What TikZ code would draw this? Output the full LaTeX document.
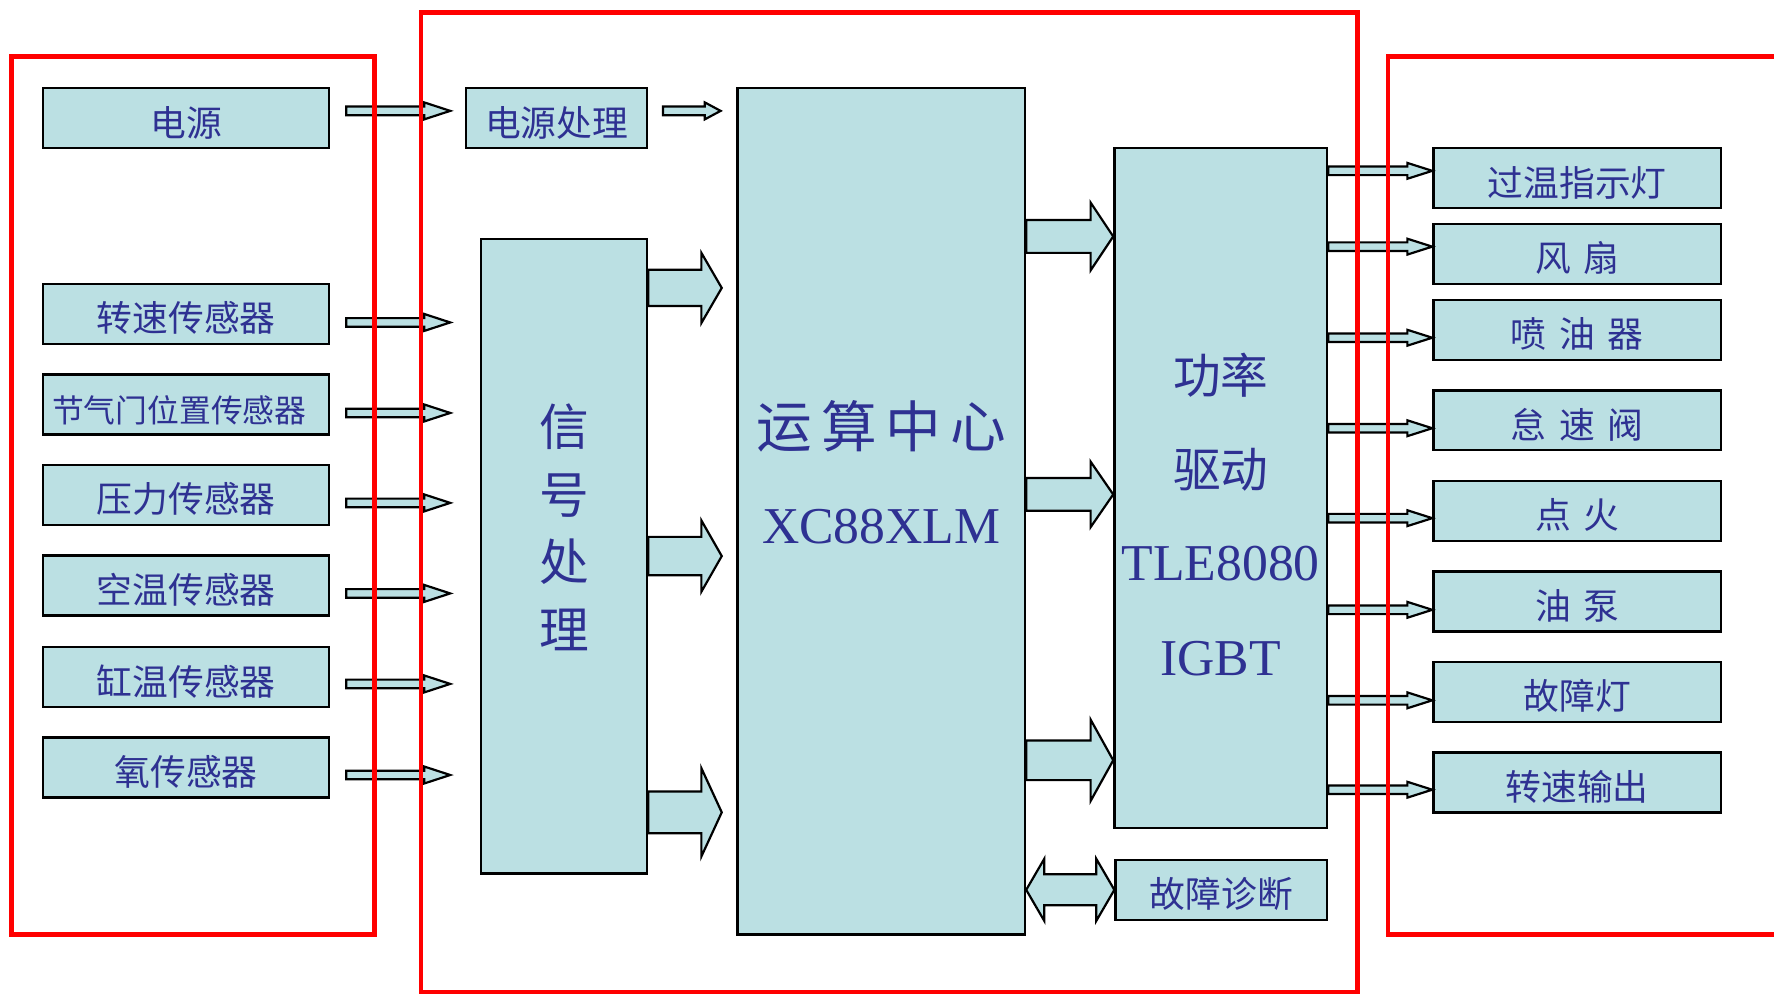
\documentclass[tikz,border=0pt]{standalone}
\usepackage{fontspec}
\setmainfont{Liberation Serif}
\newfontfamily\cjk{Noto Sans CJK SC}
\usetikzlibrary{calc}

\definecolor{boxfill}{RGB}{187,224,227}   % 方框底色
\definecolor{textblue}{RGB}{46,49,146}    % 文字颜色

\newcommand{\zikong}{\hspace{0.35em}}     % 字间空

% 空心箭头：起点，终点，杆半宽，头半宽，头长
\newcommand{\fatarrow}[5]{%
  \draw[hollow] ($(#1)+(0,#3)$) -- ($(#2)+(-#5,#3)$) -- ($(#2)+(-#5,#4)$)
    -- (#2) -- ($(#2)+(-#5,-#4)$) -- ($(#2)+(-#5,-#3)$) -- ($(#1)+(0,-#3)$) -- cycle;}

% 双向空心箭头
\newcommand{\dblarrow}[5]{%
  \draw[hollow] (#1) -- ($(#1)+(#5,#4)$) -- ($(#1)+(#5,#3)$) -- ($(#2)+(-#5,#3)$)
    -- ($(#2)+(-#5,#4)$) -- (#2) -- ($(#2)+(-#5,-#4)$) -- ($(#2)+(-#5,-#3)$)
    -- ($(#1)+(#5,-#3)$) -- ($(#1)+(#5,-#4)$) -- cycle;}

\begin{document}
\begin{tikzpicture}[
        x=0.1mm, y=-0.1mm,
        box/.style={draw=black, line width=0.6pt, fill=boxfill, inner sep=0pt,
            text=textblue, font=\cjk\fontsize{9}{11}\selectfont,
            text height=0.9em, text depth=0pt},
        lbox/.style={box, minimum width=25.3mm, minimum height=5.3mm},
        rbox/.style={box, minimum width=25.4mm, minimum height=5.3mm},
        bigtext/.style={inner sep=0pt, text=textblue, align=center},
        hollow/.style={draw=black, line width=0.55pt, fill=boxfill, line join=miter},
        panel/.style={draw=red, line width=1.1pt}
    ]

    \useasboundingbox (0,0) rectangle (1568,879);

    % ---------- 左侧：电源与传感器 ----------
    \node[lbox] (dy) at (164.5,104.5) {电源};
    \node[lbox] (zs) at (164.5,277.5) {转速传感器};
    \node[lbox, font=\cjk\fontsize{8}{10}\selectfont] (jq) at (164.5,357.5) {节气门位置传感器\kern1.2mm};
    \node[lbox] (yl) at (164.5,437.5) {压力传感器};
    \node[lbox] (kw) at (164.5,517.5) {空温传感器};
    \node[lbox] (gw) at (164.5,598.5) {缸温传感器};
    \node[lbox] (yq) at (164.5,678.5) {氧传感器};

    % ---------- 中间：控制单元 ----------
    \node[box, minimum width=16mm, minimum height=5.3mm] (yc) at (492,104.5) {电源处理};
    \node[box, minimum width=14.7mm, minimum height=56.1mm] (xh) at (498.5,491.5) {};
    \node[box, minimum width=25.4mm, minimum height=74.8mm] (ys) at (779,452) {};
    \node[box, minimum width=18.8mm, minimum height=60.1mm] (gl) at (1079,431.5) {};
    \node[box, minimum width=18.7mm, minimum height=5.3mm] (gz) at (1079.5,786.5) {故障诊断};

    % 方框内文字
    \node[bigtext, font=\cjk\fontsize{12.5}{17}\selectfont] (xht) at (498.5,466) {信\\号\\处\\理};
    \node[bigtext, font=\cjk\fontsize{14}{16}\selectfont] (yst) at (779,377) {运\,算\,中\,心};
    \node[bigtext, font=\fontsize{13}{15}\selectfont] (ysx) at (779,465) {XC88XLM};
    \node[bigtext, font=\cjk\fontsize{12}{23.6}\selectfont] (glt) at (1079,373) {功率\\驱动};
    \node[bigtext, font=\fontsize{13}{23.9}\selectfont] (glx) at (1079,540) {TLE8080\\IGBT};

    % ---------- 右侧：执行器 ----------
    \node[rbox] (gwd) at (1394,157.5) {过温指示灯};
    \node[rbox] (fs) at (1394,224.5) {风\zikong 扇};
    \node[rbox] (pyq) at (1394,291.5) {喷\zikong 油\zikong 器};
    \node[rbox] (dsf) at (1394,371.5) {怠\zikong 速\zikong 阀};
    \node[rbox] (dh) at (1394,451.5) {点\zikong 火};
    \node[rbox] (yb) at (1394,531.5) {油\zikong 泵};
    \node[rbox] (gzd) at (1394,611.5) {故障灯};
    \node[rbox] (zssc) at (1394,691.5) {转速输出};

    % ---------- 输入箭头 ----------
    \coordinate (a0s) at ($(dy.east)+(14,-6.5)$);
    \coordinate (a0e) at ($(yc.west)+(-13,-6.5)$);
    \fatarrow{a0s}{a0e}{3.8}{7.5}{23}

    \coordinate (a1s) at ($(zs.east)+(14,7.5)$);
    \coordinate (a1e) at ($(xh.west |- a1s)+(-26,0)$);
    \fatarrow{a1s}{a1e}{3.8}{7.5}{23}

    \coordinate (a2s) at ($(jq.east)+(14,7.5)$);
    \coordinate (a2e) at ($(xh.west |- a2s)+(-26,0)$);
    \fatarrow{a2s}{a2e}{3.8}{7.5}{23}

    \coordinate (a3s) at ($(yl.east)+(14,7)$);
    \coordinate (a3e) at ($(xh.west |- a3s)+(-26,0)$);
    \fatarrow{a3s}{a3e}{3.8}{7.5}{23}

    \coordinate (a4s) at ($(kw.east)+(14,7)$);
    \coordinate (a4e) at ($(xh.west |- a4s)+(-26,0)$);
    \fatarrow{a4s}{a4e}{3.8}{7.5}{23}

    \coordinate (a5s) at ($(gw.east)+(14,6)$);
    \coordinate (a5e) at ($(xh.west |- a5s)+(-26,0)$);
    \fatarrow{a5s}{a5e}{3.8}{7.5}{23}

    \coordinate (a6s) at ($(yq.east)+(14,6.5)$);
    \coordinate (a6e) at ($(xh.west |- a6s)+(-26,0)$);
    \fatarrow{a6s}{a6e}{3.8}{7.5}{23}

    % 电源处理 -> 运算中心
    \coordinate (b0s) at ($(yc.east)+(13,-6.5)$);
    \coordinate (b0e) at ($(ys.west |- b0s)+(-14,0)$);
    \fatarrow{b0s}{b0e}{3.8}{7.5}{14}

    % 信号处理 -> 运算中心
    \coordinate (c1s) at ($(xh.east)+(0,-237)$);
    \coordinate (c1e) at ($(ys.west |- c1s)+(-13,0)$);
    \fatarrow{c1s}{c1e}{16}{31}{18}

    \coordinate (c2s) at ($(xh.east)+(0,0)$);
    \coordinate (c2e) at ($(ys.west |- c2s)+(-13,0)$);
    \fatarrow{c2s}{c2e}{17}{31.5}{18}

    \coordinate (c3s) at ($(xh.east)+(0,226.5)$);
    \coordinate (c3e) at ($(ys.west |- c3s)+(-13,0)$);
    \fatarrow{c3s}{c3e}{18.5}{39}{18}

    % 运算中心 -> 功率驱动
    \coordinate (d1s) at ($(ys.east)+(0,-243)$);
    \coordinate (d1e) at (gl.west |- d1s);
    \fatarrow{d1s}{d1e}{14.5}{30}{20}

    \coordinate (d2s) at ($(ys.east)+(0,-15)$);
    \coordinate (d2e) at (gl.west |- d2s);
    \fatarrow{d2s}{d2e}{14.5}{29}{20}

    \coordinate (d3s) at ($(ys.east)+(0,220)$);
    \coordinate (d3e) at (gl.west |- d3s);
    \fatarrow{d3s}{d3e}{17.5}{36}{20}

    % 运算中心 <-> 故障诊断
    \coordinate (e1s) at (ys.east |- gz.west);
    \coordinate (e1e) at (gz.west);
    \dblarrow{e1s}{e1e}{13.7}{27.5}{16}

    % ---------- 输出箭头 ----------
    \coordinate (f1e) at ($(gwd.west)+(0,-6.5)$);
    \coordinate (f1s) at (gl.east |- f1e);
    \fatarrow{f1s}{f1e}{3.8}{7}{22}

    \coordinate (f2e) at ($(fs.west)+(0,-6.5)$);
    \coordinate (f2s) at (gl.east |- f2e);
    \fatarrow{f2s}{f2e}{3.8}{7}{22}

    \coordinate (f3e) at ($(pyq.west)+(0,7)$);
    \coordinate (f3s) at (gl.east |- f3e);
    \fatarrow{f3s}{f3e}{3.8}{7}{22}

    \coordinate (f4e) at ($(dsf.west)+(0,7)$);
    \coordinate (f4s) at (gl.east |- f4e);
    \fatarrow{f4s}{f4e}{3.8}{7}{22}

    \coordinate (f5e) at ($(dh.west)+(0,6.5)$);
    \coordinate (f5s) at (gl.east |- f5e);
    \fatarrow{f5s}{f5e}{3.8}{7}{22}

    \coordinate (f6e) at ($(yb.west)+(0,7.5)$);
    \coordinate (f6s) at (gl.east |- f6e);
    \fatarrow{f6s}{f6e}{3.8}{7}{22}

    \coordinate (f7e) at ($(gzd.west)+(0,7.5)$);
    \coordinate (f7s) at (gl.east |- f7e);
    \fatarrow{f7s}{f7e}{3.8}{7}{22}

    \coordinate (f8e) at ($(zssc.west)+(0,6.5)$);
    \coordinate (f8s) at (gl.east |- f8e);
    \fatarrow{f8s}{f8e}{3.8}{7}{22}

    % ---------- 红色分区框 ----------
    \draw[panel] (10,50) rectangle (331,826);
    \draw[panel] (372,11) rectangle (1200,877);
    \draw[panel] (1227,50) rectangle (1600,826);

\end{tikzpicture}
\end{document}
